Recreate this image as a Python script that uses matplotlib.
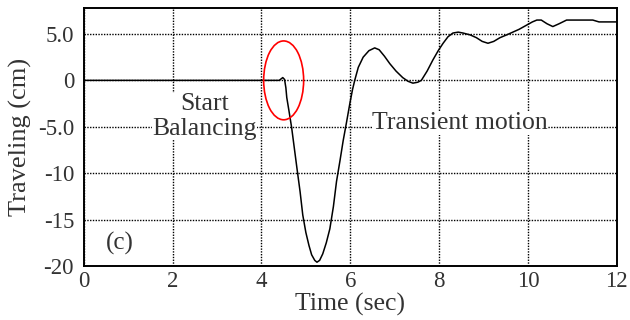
import matplotlib.pyplot as plt
from matplotlib.patches import Ellipse

# time (sec) and traveling (cm)
time = [0.0, 4.40, 4.48, 4.52, 4.55, 4.57, 4.62, 4.68, 4.74, 4.80, 4.87, 4.93,
        5.00, 5.07, 5.13, 5.20, 5.25, 5.31, 5.38, 5.46, 5.54, 5.62, 5.69, 5.77,
        5.84, 5.92, 5.99, 6.05, 6.10, 6.18, 6.29, 6.42, 6.55, 6.65, 6.77, 6.89,
        7.03, 7.18, 7.30, 7.41, 7.52, 7.60, 7.73, 7.86, 7.98, 8.09, 8.20, 8.31,
        8.43, 8.54, 8.70, 8.84, 8.97, 9.10, 9.23, 9.37, 9.52, 9.66, 9.80, 9.95,
        10.10, 10.20, 10.30, 10.43, 10.56, 10.70, 10.87, 11.46, 11.60, 12.0]
traveling = [0.0, 0.0, 0.3, 0.1, -0.8, -1.85, -3.3, -5.1, -7.3, -9.5, -12.0, -14.5,
             -16.4, -17.8, -18.8, -19.4, -19.6, -19.4, -18.7, -17.5, -16.0, -13.6,
             -10.9, -8.6, -6.5, -4.4, -2.5, -1.0, 0.0, 1.4, 2.5, 3.2, 3.5, 3.3,
             2.6, 1.8, 1.0, 0.3, -0.1, -0.3, -0.2, 0.0, 1.0, 2.2, 3.2, 4.0, 4.7,
             5.1, 5.2, 5.1, 4.9, 4.6, 4.2, 4.0, 4.2, 4.6, 4.9, 5.2, 5.5, 5.9,
             6.3, 6.5, 6.5, 6.1, 5.8, 6.1, 6.5, 6.5, 6.3, 6.3]

xticks = [0, 2, 4, 6, 8, 10, 12]
yticks = [5, 0, -5, -10, -15, -20]
ytick_labels = ['5.0', '0', '-5.0', '-10', '-15', '-20']

plt.rcParams['font.family'] = ['Liberation Serif', 'DejaVu Serif']
txt = '#333333'

fig = plt.figure(figsize=(6.3, 3.2), dpi=100)
ax = fig.add_axes([0.133, 0.169, 0.846, 0.806])

ax.plot(time, traveling, color='black', lw=1.1, zorder=3)
ax.set_xlim(0, 12)
ax.set_ylim(-20, 7.8)
ax.set_xticks(xticks)
ax.set_yticks(yticks)
ax.set_yticklabels(ytick_labels)
ax.tick_params(length=0, labelsize=16.5, colors=txt)
ax.tick_params(axis='x', pad=4)
ax.tick_params(axis='y', pad=7)
ax.grid(True, color='black', ls=(0, (1.0, 1.0)), lw=1.0)
for s in ax.spines.values():
    s.set_linewidth(1.4)

ax.set_xlabel('Time (sec)', fontsize=18.5, color=txt)
ax.xaxis.set_label_coords(0.5, -0.105)
ax.set_ylabel('Traveling (cm)', fontsize=19, color=txt)
ax.yaxis.set_label_coords(-0.098, 0.5)

ax.add_patch(Ellipse((4.5, 0), 0.9, 8.5, fill=False, edgecolor='red', lw=1.2, zorder=4))

ax.text(2.72, -3.9, 'Start\nBalancing', ha='center', va='center', fontsize=18.5,
        color=txt, linespacing=1.15,
        bbox=dict(facecolor='white', edgecolor='none', pad=0.3), zorder=2)
ax.text(8.47, -4.6, 'Transient motion', ha='center', va='center', fontsize=18.5,
        color=txt, bbox=dict(facecolor='white', edgecolor='none', pad=0.3),
        zorder=2)
ax.text(0.8, -17.6, '(c)', ha='center', va='center', fontsize=18, color=txt)

fig.savefig('out.png', dpi=100)
